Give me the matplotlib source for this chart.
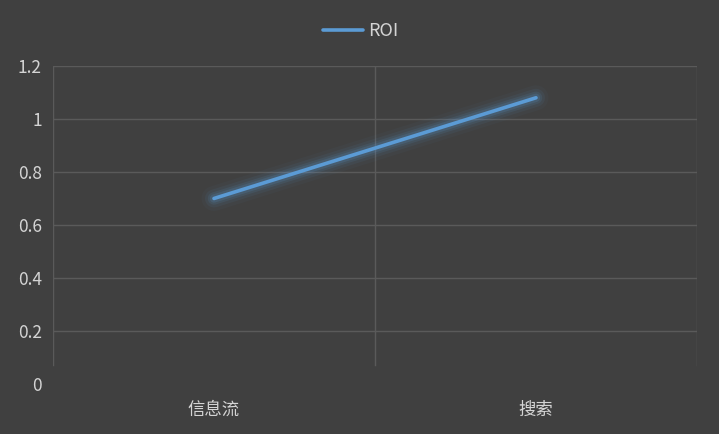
import matplotlib.pyplot as plt
import numpy as np

plt.rcParams['font.family'] = ['Noto Sans CJK SC', 'DejaVu Sans']

categories = ['信息流', '搜索']
roi = [0.70, 1.08]
y_ticks = [0, 0.2, 0.4, 0.6, 0.8, 1.0, 1.2]
y_labels = ['0', '0.2', '0.4', '0.6', '0.8', '1', '1.2']

bg = '#404040'
grid_c = '#5a5a5a'
text_c = '#d4d4d4'
line_c = '#5b9bd5'

fig = plt.figure(figsize=(7.19, 4.34), dpi=100, facecolor=bg)
ax = fig.add_axes([0.0737, 0.1152, 0.8957, 0.7328], facecolor=bg)

x = np.arange(len(categories))

# soft glow under the line
for lw, a in [(18, 0.04), (13, 0.07), (9, 0.11), (6, 0.16)]:
    ax.plot(x, roi, color=line_c, lw=lw, alpha=a, solid_capstyle='round')
ax.plot(x, roi, color=line_c, lw=2.6, solid_capstyle='round', label='ROI')

ax.set_xlim(-0.5, len(categories) - 0.5)
ax.set_ylim(0, 1.2)
ax.set_yticks(y_ticks)
ax.set_yticklabels(y_labels)
ax.set_xticks(x)
ax.set_xticklabels(categories)

for yv in y_ticks[1:]:
    ax.axhline(yv, color=grid_c, lw=1, zorder=0)
for xv in np.arange(-0.5, len(categories), 1.0):
    ax.axvline(xv, ymin=0.06, color=grid_c, lw=1, zorder=0)

for s in ax.spines.values():
    s.set_visible(False)
ax.tick_params(axis='both', length=0, colors=text_c, labelsize=12.5)
ax.tick_params(axis='y', pad=8)
ax.tick_params(axis='x', pad=12)

leg = ax.legend(loc='lower center', bbox_to_anchor=(0.478, 1.03), frameon=False,
                fontsize=13, handlelength=2.2, handletextpad=0.3)
for t in leg.get_texts():
    t.set_color(text_c)

fig.savefig('out.png', dpi=100, facecolor=bg)
